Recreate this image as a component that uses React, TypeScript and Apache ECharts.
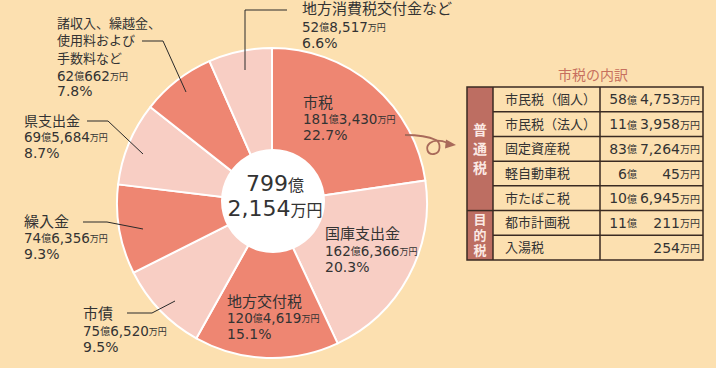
import React, { useEffect, useRef } from "react";
import * as echarts from "echarts";

// ---- data ----
const categories = [
  "市税",
  "国庫支出金",
  "地方交付税",
  "市債",
  "繰入金",
  "県支出金",
  "諸収入、繰越金、\n使用料および\n手数料など",
  "地方消費税交付金など",
];
// 万円
const values = [1813430, 1626366, 1204619, 756520, 746356, 695684, 620662, 528517];

const taxNames = ["市民税（個人）", "市民税（法人）", "固定資産税", "軽自動車税", "市たばこ税", "都市計画税", "入湯税"];
const taxValues = [584753, 113958, 837264, 60045, 106945, 110211, 254];
const taxGroupNames = ["普通税", "目的税"];
const taxGroupRows = [5, 2];
const tableTitle = "市税の内訳";

// ---- style / layout ----
const FONT = "'DejaVu Sans', 'Noto Sans CJK JP', sans-serif";
const NUM = "'DejaVu Sans', 'Noto Sans CJK JP', sans-serif";
const TXT = "#333333";
const BG = "#FCE0B0";
const DARK = "#EE8672";
const LIGHT = "#F8CEC4";
const CX = 272;
const CY = 203;
const R = 155;

const labelLayout = [
  { x: 303, y: 103, fs: 15, lh: 15, g1: 16, g2: 16 },
  { x: 325, y: 234, fs: 15, lh: 15, g1: 17, g2: 16 },
  { x: 227, y: 302, fs: 15, lh: 15, g1: 16, g2: 16 },
  { x: 83, y: 314, fs: 15, lh: 15, g1: 17, g2: 16 },
  { x: 24, y: 222, fs: 15, lh: 15, g1: 16, g2: 16 },
  { x: 24, y: 121, fs: 14, lh: 14, g1: 16, g2: 16 },
  { x: 57, y: 23, fs: 13, lh: 17.5, g1: 18, g2: 15 },
  { x: 302, y: 9, fs: 15, lh: 15, g1: 18, g2: 16 },
];
const leaders: (number[][] | null)[] = [
  null,
  null,
  null,
  [[127, 313], [152, 313], [175, 301]],
  [[83, 222], [107, 222], [143, 229]],
  [[87, 121], [108, 121], [143, 154]],
  [[142, 41], [163, 41], [186, 92]],
  [[287, 10], [245, 10], [245, 70]],
];

echarts.graphic.registerShape(
  "loopArrow",
  echarts.graphic.extendPath(
    "M405 135 Q425 135 436 140 C441 143 441 153 434 154 C427 155 425 147 430 143 C435 139 443 141 448 143",
    {}
  )
);

function fmtMan(v: number) {
  return String(v).replace(/\B(?=(\d{3})+(?!\d))/g, ",");
}

function mkRich(d: number, o: number, m: number) {
  return {
    v: { fontSize: d, lineHeight: d, fontFamily: NUM, fill: TXT, verticalAlign: "bottom" as const },
    o: { fontSize: o, lineHeight: o, fontFamily: FONT, fill: TXT, verticalAlign: "bottom" as const, padding: [0, 0, 1, 0] },
    m: { fontSize: m, lineHeight: m, fontFamily: FONT, fill: TXT, verticalAlign: "bottom" as const, padding: [0, 0, 1, 0] },
  };
}
const rich = mkRich(13.5, 10, 9);
const trich = mkRich(14, 10, 10);

function valueRich(v: number) {
  const oku = Math.floor(v / 10000);
  const man = v % 10000;
  return oku > 0 ? `{v|${oku}}{o|億}{v|${fmtMan(man)}}{m|万円}` : `{v|${fmtMan(man)}}{m|万円}`;
}

export default function App() {
  const ref = useRef<HTMLDivElement>(null);
  useEffect(() => {
    if (!ref.current) return;
    const chart = echarts.init(ref.current, null, { renderer: "svg" });
    const total = values.reduce((a, b) => a + b, 0);
    const g: any[] = [];

    // center
    g.push({ type: "circle", shape: { cx: CX + 1, cy: CY - 2, r: 52 }, style: { fill: "#ffffff" }, z: 5 });
    const tOku = Math.floor(total / 10000);
    const tMan = total % 10000;
    const crich = {
      a: { fontSize: 22, lineHeight: 22, fontFamily: NUM, fill: TXT, verticalAlign: "bottom" },
      b: { fontSize: 16, lineHeight: 16, fontFamily: FONT, fill: TXT, verticalAlign: "bottom", padding: [0, 0, 1, 0] },
    };
    g.push({
      type: "text", x: CX + 3, y: 183, z: 6,
      style: { text: `{a|${tOku}}{b|億}`, align: "center", verticalAlign: "middle", rich: crich },
    });
    g.push({
      type: "text", x: CX + 3, y: 208, z: 6,
      style: { text: `{a|${fmtMan(tMan)}}{b|万円}`, align: "center", verticalAlign: "middle", rich: crich },
    });

    // pie labels
    categories.forEach((name, i) => {
      const L = labelLayout[i];
      const lines = name.split("\n");
      let y = L.y;
      lines.forEach((ln, k) => {
        if (k > 0) y += L.lh;
        g.push({ type: "text", x: L.x, y, z: 10, style: { text: ln, fontSize: L.fs, lineHeight: L.fs, fontFamily: FONT, fill: TXT, align: "left", verticalAlign: "middle" } });
      });
      y += L.g1;
      g.push({ type: "text", x: L.x, y, z: 10, style: { text: valueRich(values[i]), rich, align: "left", verticalAlign: "middle" } });
      y += L.g2;
      const pct = ((values[i] / total) * 100).toFixed(1) + "%";
      g.push({ type: "text", x: L.x, y, z: 10, style: { text: pct, fontSize: 14, lineHeight: 14, fontFamily: NUM, fill: TXT, align: "left", verticalAlign: "middle" } });
      const ld = leaders[i];
      if (ld) g.push({ type: "polyline", z: 10, shape: { points: ld }, style: { stroke: "#2a2a2a", lineWidth: 1, fill: null } });
    });

    // arrow
    g.push({ type: "loopArrow", x: 0, y: 0, z: 10, style: { stroke: "#A96A5A", lineWidth: 1.8, fill: null } });
    g.push({ type: "polygon", z: 10, shape: { points: [[446, 139.5], [456, 145], [445, 148.5]] }, style: { fill: "#A96A5A" } });

    // table
    const TL = 467, TT = 87, C1 = 493, C2 = 600, TR = 703, TB = 260;
    const rowH = (TB - TT) / taxNames.length;
    g.push({ type: "text", x: 593, y: 75, z: 10, style: { text: tableTitle, fontSize: 14, lineHeight: 14, fontFamily: FONT, fill: "#C7705E", align: "center", verticalAlign: "middle" } });
    g.push({ type: "rect", z: 8, shape: { x: TL, y: TT, width: C1 - TL, height: TB - TT }, style: { fill: "#BD6E62" } });
    const lineStyle = { stroke: "#3A2A22", lineWidth: 1.5 };
    let rAcc = 0;
    taxGroupNames.forEach((gn, gi) => {
      const n = taxGroupRows[gi];
      const y0 = TT + rAcc * rowH;
      const y1 = TT + (rAcc + n) * rowH;
      const lh = n >= 4 ? 19 : 15.5;
      const fs = n >= 4 ? 14 : 13;
      const chars = gn.split("");
      chars.forEach((ch, k) => {
        const yc = (y0 + y1) / 2 + (k - (chars.length - 1) / 2) * lh;
        g.push({ type: "text", x: (TL + C1) / 2, y: yc, z: 10, style: { text: ch, fontSize: fs, lineHeight: fs, fontWeight: "bold", fontFamily: FONT, fill: "#FBE9E4", align: "center", verticalAlign: "middle" } });
      });
      if (gi > 0) g.push({ type: "line", z: 9, shape: { x1: TL, y1: y0, x2: C1, y2: y0 }, style: lineStyle });
      rAcc += n;
    });
    for (let i = 1; i < taxNames.length; i++) {
      const y = TT + i * rowH;
      g.push({ type: "line", z: 9, shape: { x1: C1, y1: y, x2: TR, y2: y }, style: lineStyle });
    }
    g.push({ type: "line", z: 9, shape: { x1: C1, y1: TT, x2: C1, y2: TB }, style: lineStyle });
    g.push({ type: "line", z: 9, shape: { x1: C2, y1: TT, x2: C2, y2: TB }, style: lineStyle });
    g.push({ type: "rect", z: 9, shape: { x: TL, y: TT, width: TR - TL, height: TB - TT }, style: { ...lineStyle, fill: null } });
    taxNames.forEach((nm, i) => {
      const yc = TT + (i + 0.5) * rowH;
      g.push({ type: "text", x: 505, y: yc, z: 10, style: { text: nm, fontSize: 13, lineHeight: 13, fontFamily: FONT, fill: TXT, align: "left", verticalAlign: "middle" } });
      const v = taxValues[i];
      const oku = Math.floor(v / 10000);
      const man = v % 10000;
      if (oku > 0) g.push({ type: "text", x: 637, y: yc, z: 10, style: { text: `{v|${oku}}{o|億}`, rich: trich, align: "right", verticalAlign: "middle" } });
      g.push({ type: "text", x: 700, y: yc, z: 10, style: { text: `{v|${fmtMan(man)}}{m|万円}`, rich: trich, align: "right", verticalAlign: "middle" } });
    });

    chart.setOption({
      animation: false,
      backgroundColor: BG,
      series: [
        {
          type: "pie",
          center: [CX, CY],
          radius: [0, R],
          startAngle: 90,
          clockwise: true,
          label: { show: false },
          labelLine: { show: false },
          emphasis: { disabled: true },
          itemStyle: { borderColor: "#ffffff", borderWidth: 2 },
          data: categories.map((c, i) => ({ name: c, value: values[i], itemStyle: { color: i % 2 === 0 ? DARK : LIGHT } })),
        },
      ],
      graphic: g,
    });
    return () => chart.dispose();
  }, []);
  return <div ref={ref} style={{ position: "fixed", left: 0, top: 0, width: 716, height: 368 }} />;
}
